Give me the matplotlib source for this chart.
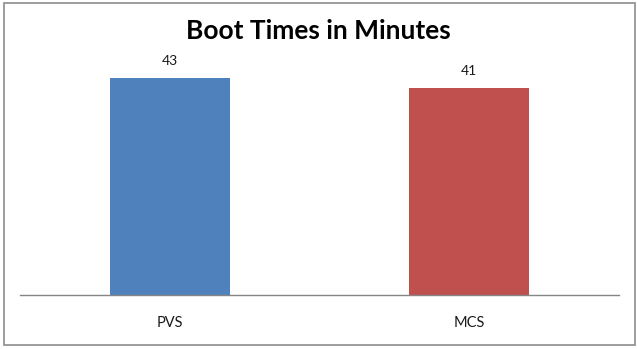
import matplotlib
matplotlib.use("Agg")
import matplotlib.pyplot as plt
from matplotlib.patches import Rectangle

categories = ["PVS", "MCS"]
values = [43, 41]
colors = ["#4F81BD", "#C0504D"]
title = "Boot Times in Minutes"

plt.rcParams['font.family'] = ['Lato', 'DejaVu Sans']

W, H = 637, 349
fig = plt.figure(figsize=(W / 100, H / 100), dpi=100)
fig.patch.set_facecolor("white")

# outer border
fig.add_artist(Rectangle((4 / W, 1 - 345 / H), (635 - 4) / W, (345 - 3) / H,
                         transform=fig.transFigure, fill=False,
                         edgecolor="#8c8c8c", linewidth=1.2))

ax = fig.add_axes([20 / W, 1 - 295 / H, (619 - 20) / W, (295 - 43) / H])
x = range(len(categories))
bars = ax.bar(x, values, width=0.4, color=colors)
ax.set_xlim(-0.5, 1.5)
ax.set_ylim(0, 50)
for s in ["top", "right", "left"]:
    ax.spines[s].set_visible(False)
ax.spines["bottom"].set_color("#868686")
ax.spines["bottom"].set_linewidth(1.0)
ax.set_yticks([])
ax.set_xticks(list(x))
ax.set_xticklabels(categories, fontsize=10.5, color="#1a1a1a")
ax.tick_params(axis="x", length=0, pad=15)

for b, v in zip(bars, values):
    ax.annotate(str(v), (b.get_x() + b.get_width() / 2, v), xytext=(0, 8),
                textcoords="offset points", ha="center", va="bottom",
                fontsize=10, color="#1a1a1a")

fig.text(0.5, 1 - 31 / H, title, ha="center", va="center",
         fontsize=19, fontweight="bold", color="black")

fig.savefig("out.png", dpi=100)
